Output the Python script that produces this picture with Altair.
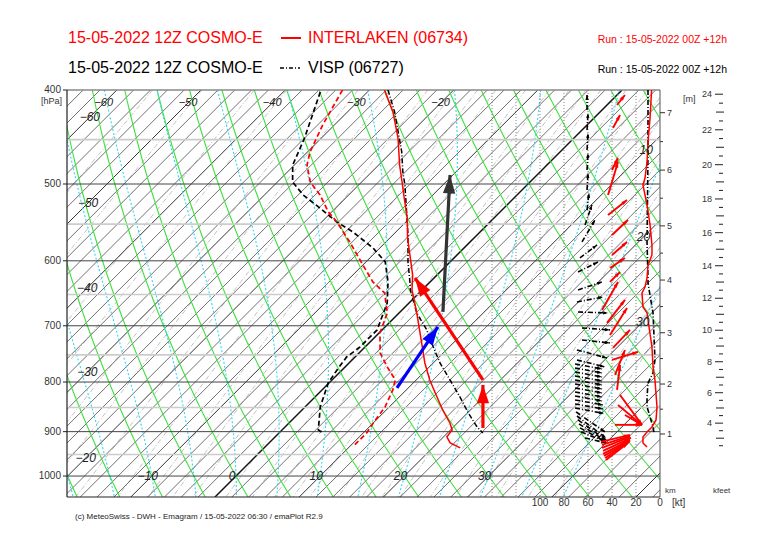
import numpy as np
import pandas as pd
import altair as alt

FONT = "Liberation Sans"

# ---------------- values ----------------
# Interlaken (06734) temperature and dew point  [hPa], [deg C]
ilk_t_p = [400, 421.4, 448.3, 478.0, 497.6, 521.8, 542.0, 568.3, 595.9, 620.5, 642.9, 679.0, 736.1, 764.6, 796.0, 821.0, 854.8, 881.6, 896.3, 911.3, 924.4, 935.5]
ilk_t = [-28.2, -24.6, -20.9, -17.5, -15.2, -12.5, -10.3, -7.9, -5.2, -2.9, -1.2, 2.1, 6.8, 9.0, 11.6, 13.8, 16.7, 19.1, 20.2, 20.4, 21.5, 23.3]
ilk_td_p = [400, 434.6, 463.4, 478.0, 497.6, 513.2, 534.3, 547.1, 573.7, 605.9, 630.8, 647.5, 679.0, 712.0, 746.6, 771.8, 796.0, 815.2, 848.7, 881.6, 902.7, 924.4, 933.3]
ilk_td = [-33.2, -31.4, -29.7, -28.5, -26.1, -23.4, -20.4, -18.2, -14.3, -10.0, -6.8, -4.1, -1.4, 0.1, 2.5, 5.0, 7.5, 8.4, 9.5, 10.0, 10.4, 10.4, 10.4]
# Visp (06727)
visp_t_p = [400, 421.4, 463.4, 485.9, 501.2, 534.3, 564.3, 601.6, 630.8, 642.9, 679.0, 706.9, 736.1, 764.6, 796.0, 828.8, 860.9, 890.0, 902.7]
visp_t = [-27.8, -24.4, -18.8, -16.3, -14.5, -11.1, -8.2, -5.0, -2.4, -1.4, 2.1, 5.3, 8.1, 10.8, 14.0, 17.2, 20.1, 22.8, 24.2]
visp_td_p = [401.9, 448.3, 478.0, 497.6, 513.2, 529.2, 547.1, 560.3, 582.0, 601.6, 630.8, 663.1, 706.9, 736.1, 753.8, 777.4, 801.8, 848.7, 896.3, 902.7]
visp_td = [-35.6, -32.0, -30.2, -28.2, -25.4, -21.9, -18.2, -15.1, -10.8, -7.7, -5.0, -2.6, -0.6, -0.6, -1.0, -0.6, -0.1, 1.8, 4.3, 5.2]

# wind speed profiles [hPa], [kt]
ilk_ff_p = [400, 427.5, 452.5, 474.5, 492.9, 501.1, 513.2, 525.5, 551.0, 577.8, 591.7, 605.9, 624.9, 638.4, 647.5, 669.4, 679.0, 736.1, 771.8, 796.1, 848.7, 875.3, 890.0, 900.6, 911.3, 924.4, 933.3]
ilk_ff = [7.0, 8.3, 10.0, 10.8, 12.5, 14.2, 12.5, 10.8, 8.3, 6.7, 6.7, 10.0, 10.8, 12.5, 15.0, 14.2, 10.8, 6.7, 5.8, 4.2, 2.5, 3.3, 6.7, 10.8, 14.2, 14.2, 10.8]
visp_ff_p = [400, 427.5, 463.4, 573.7, 624.9, 632.4, 669.4, 679.0, 759.1, 782.9, 801.8, 828.8, 848.7, 869.1, 890.0, 902.7]
visp_ff = [10.0, 10.0, 10.0, 10.8, 10.0, 10.0, 6.7, 5.8, 4.2, 5.8, 10.0, 10.8, 10.8, 8.3, 5.8, 5.0]

# wind arrows: tail (kt position, hPa) -> head (kt position, hPa)
ilk_w_kt1 = [35.8, 39.2, 40.0, 43.3, 43.3, 40.0, 40.0, 41.7, 41.7, 48.3, 44.2, 41.7, 39.2, 40.0, 37.5, 35.8, 35.0, 33.3, 29.2, 37.5,
             49.2, 48.3, 48.3, 47.5, 47.5, 46.7, 45.8, 45.0]
ilk_w_p1 = [414.5, 437.8, 483.6, 513.2, 538.2, 564.3, 591.7, 610.2, 630.8, 674.2, 695.3, 715.4, 737.8, 759.1, 786.7, 815.2, 844.8, 825.0, 865.1, 885.6,
            922.2, 928.8, 935.5, 942.1, 948.9, 953.4, 958.0, 962.6]
ilk_w_kt2 = [29.2, 33.3, 35.0, 35.0, 27.5, 26.7, 27.5, 29.2, 33.3, 35.0, 29.2, 27.5, 25.0, 18.3, 29.2, 33.3, 15.0, 15.0, 15.0, 15.0,
             25.0, 25.0, 25.0, 24.2, 25.0, 25.0, 25.8, 26.7]
ilk_w_p2 = [404.8, 424.4, 470.1, 474.5, 519.3, 544.6, 573.7, 595.9, 616.1, 630.8, 658.3, 671.0, 706.9, 744.9, 741.4, 768.3, 885.6, 885.6, 885.6, 885.6,
            907.0, 909.1, 911.3, 913.5, 917.8, 920.0, 922.2, 924.4]

visp_w_kt1 = [60.8, 60.8, 60.8, 60.8, 60.8, 60.8, 62.5, 65.0, 66.7, 68.3, 68.3, 69.2, 68.3, 65.0, 65.0, 69.2, 69.2,
              70.8, 70.8, 70.8, 70.8, 70.8, 70.8, 70.8, 70.8, 70.8, 70.8, 70.8, 70.8, 70.0, 69.2, 68.3, 67.5, 66.7, 65.8, 62.5]
visp_w_p1 = [419.4, 439.8, 461.2, 483.6, 507.1, 531.8, 551.0, 573.7, 595.9, 616.1, 642.9, 661.5, 677.4, 703.6, 724.0, 741.4, 759.1,
             766.4, 773.7, 781.1, 788.6, 796.1, 803.7, 811.3, 819.1, 826.9, 834.7, 842.7, 850.7, 858.8, 867.2, 875.3, 883.6, 891.9, 900.6, 913.5]
visp_w_kt2 = [60.8, 60.0, 60.0, 60.0, 60.0, 59.2, 56.7, 54.2, 52.5, 51.7, 48.3, 47.5, 43.3, 41.7, 41.7, 44.2, 45.8,
              48.3, 48.3, 48.3, 48.3, 48.3, 48.3, 48.3, 48.3, 48.3, 47.5, 47.5, 46.7, 45.8, 45.0, 45.0, 45.0, 45.0, 45.0, 45.0]
visp_w_p2 = [404.8, 422.4, 443.0, 464.5, 487.1, 510.8, 525.5, 544.6, 577.8, 601.6, 630.8, 653.7, 679.0, 706.9, 729.2, 755.6, 771.8,
             775.6, 783.0, 790.4, 798.0, 805.6, 813.3, 821.0, 828.8, 836.7, 844.7, 852.8, 862.0, 900.6, 913.5, 917.8, 920.0, 922.2, 922.2, 924.4]

# large vectors in the diagram (skewed-T position, hPa)
big_name = ["red_a", "red_b", "blue", "dark"]
big_x1 = [29.33, 29.33, 19.12, 24.58]
big_p1 = [796.1, 892.1, 811.3, 677.4]
big_x2 = [21.26, 29.33, 23.99, 25.42]
big_p2 = [624.9, 805.5, 702.0, 489.4]
big_color = ["#ff0000", "#ff0000", "#0000ff", "#333333"]

# axis ticks / labels
p_major = [400, 500, 600, 700, 800, 900, 1000]
p_minor = [450, 550, 650, 750, 850, 950]
kt_lines = [20, 40, 60, 80, 100, 120, 140]
kt_labels = [100, 80, 60, 40, 20, 0]
km_labels = [1, 2, 3, 4, 5, 6, 7]
km_minor = [1.5, 2.5, 3.5, 4.5, 5.5, 6.5]
kft_labels = [4, 6, 8, 10, 12, 14, 16, 18, 20, 22, 24]
kft_odd = [3, 5, 7, 9, 11, 13, 15, 17, 19, 21, 23]
kft_half = [2.5, 3.5, 4.5, 5.5, 6.5, 7.5, 8.5, 9.5, 10.5, 11.5, 12.5, 13.5, 14.5, 15.5, 16.5, 17.5, 18.5, 19.5, 20.5, 21.5, 22.5, 23.5]
iso_top_t = [-60, -50, -40, -30, -20]
iso_top_p = [412.6, 412.6, 412.6, 412.6, 412.6]
iso_left_t = [-60, -50, -40, -30, -20]
iso_left_p = [426.5, 523.0, 640.0, 781.4, 958.0]
iso_right_t = [10, 20, 30]
iso_right_p = [461.2, 566.9, 693.5]
iso_bot_t = [-10, 0, 10, 20, 30]

# ---------------- geometry ----------------
W, H = 593, 407
XMIN, XMAX = -20.07, 50.36
PMIN, PMAX = 400.0, 1051.0
PXX = float(W / (XMAX - XMIN))            # px per deg C
PXL = float(H / np.log(PMAX / PMIN))      # px per unit ln p
SKEW = PXL / PXX                          # 45 degree skew
KT = 1.2 / PXX                            # x units per knot

xs = alt.Scale(domain=[XMIN, XMAX], nice=False, zero=False)
ys = alt.Scale(type="log", domain=[PMIN, PMAX], reverse=True, nice=False)


def XE(f="X"):
    return alt.X(f"{f}:Q", scale=xs, axis=None)


def YE(f="p"):
    return alt.Y(f"{f}:Q", scale=ys, axis=None)


XCALC = f"datum.T + {SKEW}*log(1000/datum.p)"

layers = []

# ---------------- background diagram lines ----------------
pl = np.geomspace(PMIN, PMAX, 45)
rows = []
for T in range(-66, 54, 2):
    kind = "iso0" if T == 0 else ("iso10" if T % 10 == 0 else "iso")
    for i, p in enumerate([PMIN, PMAX]):
        rows.append((kind, f"t{T}", i, T + SKEW * np.log(1000 / p), p))
for th in range(-20, 95, 5):
    for i, p in enumerate(pl):
        T = (th + 273.15) * (p / 1000) ** 0.2857 - 273.15
        rows.append(("dry", f"d{th}", i, T + SKEW * np.log(1000 / p), p))

Rd, cp, Lv, eps = 287.04, 1005.7, 2.501e6, 0.622


def dtdp(T, p):
    tc = T - 273.15
    es = 6.112 * np.exp(17.67 * tc / (tc + 243.5))
    rs = eps * es / (p - es)
    return (Rd * T + Lv * rs) / (cp + Lv * Lv * rs * eps / (Rd * T * T)) / p


def integrate(T0, p0, p1, dp):
    out = [(p0, T0)]
    T, p = T0, p0
    n = int(round(abs(p1 - p0) / abs(dp)))
    for _ in range(n):
        k1 = dtdp(T, p)
        k2 = dtdp(T + 0.5 * dp * k1, p + 0.5 * dp)
        k3 = dtdp(T + 0.5 * dp * k2, p + 0.5 * dp)
        k4 = dtdp(T + dp * k3, p + dp)
        T += dp * (k1 + 2 * k2 + 2 * k3 + k4) / 6
        p += dp
        out.append((p, T))
    return out


for tw in range(-20, 45, 5):
    up = integrate(tw + 273.15, 1000.0, PMIN, -10.0)[::-1]
    dn = integrate(tw + 273.15, 1000.0, 1060.0, 10.0)[1:]
    for i, (p, T) in enumerate(up + dn):
        rows.append(("moist", f"m{tw}", i, T - 273.15 + SKEW * np.log(1000 / p), p))

for w in [0.05, 0.1, 0.2, 0.3, 0.5, 0.7, 1, 1.5, 2, 2.5, 3, 4, 5, 6, 7, 8, 10, 12, 14, 16, 20, 24, 28, 32, 40, 48]:
    for i, p in enumerate(pl):
        r = w / 1000.0
        e = p * r / (eps + r)
        a = np.log(e / 6.112)
        td = 243.5 * a / (17.67 - a)
        rows.append(("mix", f"w{w}", i, td + SKEW * np.log(1000 / p), p))

bg = pd.DataFrame(rows, columns=["kind", "id", "i", "X", "p"])


def bgl(kind, **kw):
    return alt.Chart(bg[bg.kind == kind]).mark_line(clip=True, **kw).encode(
        x=XE(), y=YE(), detail="id:N", order="i:Q")


layers.append(bgl("mix", color="#a8a8a8", strokeWidth=0.7, strokeDash=[5, 2, 1, 2]))
layers.append(bgl("iso", color="#4d4d4d", strokeWidth=0.8))
layers.append(bgl("iso10", color="#333333", strokeWidth=1.0))
layers.append(bgl("iso0", color="#111111", strokeWidth=1.5))
layers.append(bgl("dry", color="#3fe03f", strokeWidth=1.1))
layers.append(bgl("moist", color="#35d6f0", strokeWidth=1.1, strokeDash=[2, 2]))

# pressure lines
layers.append(alt.Chart(pd.DataFrame({"p": p_minor})).mark_rule(color="#cccccc", strokeWidth=1.6).encode(y=YE()))
layers.append(alt.Chart(pd.DataFrame({"p": p_major[1:]})).mark_rule(color="#444444", strokeWidth=1).encode(y=YE()))
# knot lines
layers.append(alt.Chart(pd.DataFrame({"kt": kt_lines})).transform_calculate(X=f"{XMAX} - datum.kt*{KT}")
              .mark_rule(color="#666666", strokeWidth=0.8, strokeDash=[1, 2]).encode(x=XE()))

# frame
layers.append(alt.Chart(pd.DataFrame({"p": [PMIN]})).mark_rule(color="#888888", strokeWidth=1.3).encode(y=YE()))
layers.append(alt.Chart(pd.DataFrame({"p": [PMAX]})).mark_rule(color="#222222", strokeWidth=1.2).encode(y=YE()))
layers.append(alt.Chart(pd.DataFrame({"X": [XMIN]})).mark_rule(color="#222222", strokeWidth=1.2).encode(x=XE()))
layers.append(alt.Chart(pd.DataFrame({"X": [XMAX]})).mark_rule(color="#555555", strokeWidth=1).encode(x=XE()))


# ---------------- profiles ----------------
def prof(p, t, color, dash=None, width=1.5):
    df = pd.DataFrame({"p": p, "T": t, "i": range(len(p))})
    kw = dict(color=color, strokeWidth=width, clip=True)
    if dash:
        kw["strokeDash"] = dash
    return alt.Chart(df).transform_calculate(X=XCALC).mark_line(**kw).encode(x=XE(), y=YE(), order="i:Q")


def ffprof(p, ff, color, dash=None, width=1.5):
    df = pd.DataFrame({"p": p, "kt": ff, "i": range(len(p))})
    kw = dict(color=color, strokeWidth=width, clip=True)
    if dash:
        kw["strokeDash"] = dash
    return alt.Chart(df).transform_calculate(X=f"{XMAX} - datum.kt*{KT}").mark_line(**kw).encode(
        x=XE(), y=YE(), order="i:Q")


DASHDOT = [5, 2, 1, 2]
layers.append(prof(visp_td_p, visp_td, "#000000", [5, 3], 1.7))
layers.append(prof(ilk_td_p, ilk_td, "#ff0000", [5, 3], 1.7))
layers.append(prof(visp_t_p, visp_t, "#000000", DASHDOT, 1.5))
layers.append(prof(ilk_t_p, ilk_t, "#ff0000", None, 1.5))
layers.append(ffprof(visp_ff_p, visp_ff, "#000000", DASHDOT, 1.6))
layers.append(ffprof(ilk_ff_p, ilk_ff, "#ff0000", None, 1.5))

HEAD_PATH = "M0,-1L0.6,0.8L-0.6,0.8Z"


# ---------------- arrows ----------------
def arrows(df, color, width, size, dash=None):
    r = float(np.sqrt(size) / 2.0)
    base = (alt.Chart(df)
            .transform_calculate(dx=f"(datum.X2-datum.X1)*{PXX}")
            .transform_calculate(dy=f"{PXL}*log(datum.p2/datum.p1)")
            .transform_calculate(L="max(sqrt(datum.dx*datum.dx+datum.dy*datum.dy), 0.001)")
            .transform_calculate(ang="(atan2(datum.dx, -datum.dy)*180/PI + 360) % 360")
            .transform_calculate(Xh=f"datum.X2 - {r}*datum.dx/datum.L/{PXX}")
            .transform_calculate(ph=f"datum.p2*exp(-{r}*datum.dy/datum.L/{PXL})"))
    kw = dict(strokeWidth=width, clip=True)
    if dash:
        kw["strokeDash"] = dash
    if color is None:
        cenc = {"color": alt.Color("c:N", scale=None)}
    else:
        cenc = {}
        kw["color"] = color
    shaft = base.mark_rule(**kw).encode(
        x=alt.X("X1:Q", scale=xs, axis=None), x2=alt.X2("X2:Q"),
        y=alt.Y("p1:Q", scale=ys, axis=None), y2=alt.Y2("p2:Q"), **cenc)
    hkw = dict(shape=HEAD_PATH, filled=True, size=size, opacity=1)
    if color is not None:
        hkw["color"] = color
    head = base.mark_point(**hkw).encode(
        x=alt.X("Xh:Q", scale=xs, axis=None), y=alt.Y("ph:Q", scale=ys, axis=None),
        angle=alt.Angle("ang:Q", scale=None), **cenc)
    return [shaft, head]


visp_w = pd.DataFrame({"a1": visp_w_kt1, "p1": visp_w_p1, "a2": visp_w_kt2, "p2": visp_w_p2})
visp_w["X1"] = XMAX - visp_w.a1 * KT
visp_w["X2"] = XMAX - visp_w.a2 * KT
ilk_w = pd.DataFrame({"a1": ilk_w_kt1, "p1": ilk_w_p1, "a2": ilk_w_kt2, "p2": ilk_w_p2})
ilk_w["X1"] = XMAX - ilk_w.a1 * KT
ilk_w["X2"] = XMAX - ilk_w.a2 * KT
layers += arrows(visp_w, "#000000", 1.6, 30, DASHDOT)
layers += arrows(ilk_w, "#ff0000", 1.9, 40)

big = pd.DataFrame({"n": big_name, "X1": big_x1, "p1": big_p1, "X2": big_x2, "p2": big_p2, "c": big_color})
layers += arrows(big, None, 3.2, 420)


# ---------------- labels ----------------
def txt(s, x, y, size=10, color="#000000", align="left", baseline="middle", style="normal"):
    return alt.Chart(pd.DataFrame({"v": [0]})).mark_text(
        text=s, align=align, baseline=baseline, fontSize=size, font=FONT, color=color,
        fontStyle=style).encode(x=alt.value(x), y=alt.value(y))


def iso_labels(t, p, size=11, dx=0):
    df = pd.DataFrame({"T": t, "p": p})
    return alt.Chart(df).transform_calculate(X=XCALC).transform_calculate(
        lab="format(datum.T, 'd')").mark_text(
        font=FONT, fontSize=size, fontStyle="italic", color="#222222", dx=dx).encode(
        x=XE(), y=YE(), text="lab:N")


layers.append(iso_labels(iso_top_t, iso_top_p, 11))
layers.append(iso_labels(iso_left_t, iso_left_p, 12))
layers.append(iso_labels(iso_right_t, iso_right_p, 12))
layers.append(iso_labels(iso_bot_t, [1000] * len(iso_bot_t), 12, -4))

# left pressure axis
layers.append(alt.Chart(pd.DataFrame({"p": p_major})).mark_rule(color="#222222").encode(
    y=YE(), x=alt.value(-4), x2=alt.value(0)))
layers.append(alt.Chart(pd.DataFrame({"p": p_major})).mark_text(
    font=FONT, fontSize=10, align="right", color="#333333").encode(
    y=YE(), x=alt.value(-6), text=alt.Text("p:Q", format="d")))
layers.append(txt("[hPa]", -5, 11, 9, "#333333", "right"))

# knots axis labels
layers.append(alt.Chart(pd.DataFrame({"kt": kt_labels})).transform_calculate(X=f"{XMAX} - datum.kt*{KT}")
              .mark_text(font=FONT, fontSize=10, color="#333333", baseline="middle").encode(
    x=XE(), y=alt.value(413), text=alt.Text("kt:Q", format="d")))
layers.append(txt("[kt]", 605, 413, 10, "#333333"))
layers.append(txt("km", 598, 401, 8, "#333333"))
layers.append(txt("kfeet", 646, 401, 8, "#333333"))
layers.append(txt("[m]", 616, 9, 9, "#333333"))


# height axes (km and kfeet)
def h2p(h_m):
    h_m = np.asarray(h_m, dtype=float)
    return 905.0 * (1 - 0.0075 * (h_m - 1000.0) / 291.9) ** 4.555


km_df = pd.DataFrame({"km": km_labels, "p": h2p(np.array(km_labels) * 1000)})
kmm_df = pd.DataFrame({"km": km_minor, "p": h2p(np.array(km_minor) * 1000)})
layers.append(alt.Chart(km_df).mark_rule(color="#333333").encode(y=YE(), x=alt.value(W), x2=alt.value(W + 5)))
layers.append(alt.Chart(kmm_df).mark_rule(color="#333333").encode(y=YE(), x=alt.value(W), x2=alt.value(W + 3)))
layers.append(alt.Chart(km_df).mark_text(font=FONT, fontSize=9, align="left", color="#333333").encode(
    y=YE(), x=alt.value(W + 7), text=alt.Text("km:Q", format="d")))

kf_df = pd.DataFrame({"k": kft_labels, "p": h2p(np.array(kft_labels) * 304.8)})
kfo_df = pd.DataFrame({"k": kft_odd, "p": h2p(np.array(kft_odd) * 304.8)})
kfh_df = pd.DataFrame({"k": kft_half, "p": h2p(np.array(kft_half) * 304.8)})
layers.append(alt.Chart(kf_df).mark_rule(color="#333333", strokeWidth=1.1).encode(y=YE(), x=alt.value(648), x2=alt.value(656)))
layers.append(alt.Chart(kfo_df).mark_rule(color="#333333", strokeWidth=1.1).encode(y=YE(), x=alt.value(649), x2=alt.value(657)))
layers.append(alt.Chart(kfh_df).mark_rule(color="#333333", strokeWidth=1.1).encode(y=YE(), x=alt.value(652), x2=alt.value(656)))
layers.append(alt.Chart(kf_df).mark_text(font=FONT, fontSize=9, align="right", color="#333333").encode(
    y=YE(), x=alt.value(645), text=alt.Text("k:Q", format="d")))

# titles
layers.append(txt("15-05-2022 12Z COSMO-E", 1, -52, 16, "#ff0000"))
layers.append(alt.Chart(pd.DataFrame({"v": [0]})).mark_rule(color="#ff0000", strokeWidth=2).encode(
    x=alt.value(214), x2=alt.value(234), y=alt.value(-52)))
layers.append(txt("INTERLAKEN (06734)", 241, -52, 16, "#ff0000"))
layers.append(txt("Run : 15-05-2022 00Z +12h", 660, -50, 10.5, "#ff0000", "right"))
layers.append(txt("15-05-2022 12Z COSMO-E", 1, -22, 16, "#000000"))
layers.append(alt.Chart(pd.DataFrame({"v": [0]})).mark_rule(color="#000000", strokeWidth=1.5, strokeDash=[4, 2, 1, 2]).encode(
    x=alt.value(213), x2=alt.value(233), y=alt.value(-22)))
layers.append(txt("VISP (06727)", 241, -22, 16, "#000000"))
layers.append(txt("Run : 15-05-2022 00Z +12h", 660, -20, 10.5, "#000000", "right"))
layers.append(txt("(c) MeteoSwiss - DWH - Emagram / 15-05-2022  06:30 / emaPlot R2.9", 8, 427, 8, "#222222"))

chart = alt.layer(*layers).properties(
    width=W, height=H,
    autosize=alt.AutoSizeParams(type="none"),
    padding={"left": 59, "top": 82, "right": 98, "bottom": 36},
    background="white",
).configure_view(strokeWidth=0)

chart.save("out.html", embed_options={"renderer": "svg", "actions": False})
